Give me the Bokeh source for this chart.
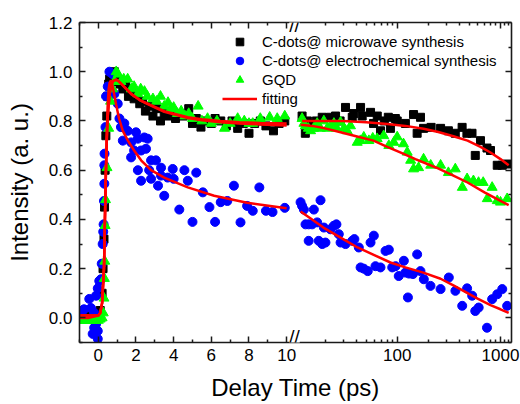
import math
from bokeh.plotting import figure
from bokeh.models import (Range1d, LogScale, LinearAxis, FixedTicker,
                          NumeralTickFormatter, Legend, LegendItem, Label)
from bokeh.embed import file_html
from bokeh.resources import INLINE

FONT = "Liberation Sans"

# ---------------- data ----------------
black_lin_x = [-1.0, -0.8, -0.6, -0.4, -0.2, 0.0, 0.1, 0.2, 0.25, 0.3,
               0.33, 0.36, 0.4, 0.45, 0.5, 0.55, 0.6, 0.68, 0.75, 0.85,
               0.95, 1.05, 1.15, 1.3, 1.45, 1.6, 1.75, 1.9, 2.05, 2.2,
               2.35, 2.5, 2.7, 2.9, 3.1, 3.3, 3.5, 3.7, 3.9, 4.1,
               4.3, 4.5, 4.8, 5.0, 5.2, 5.45, 5.7, 6.0, 6.2, 6.5,
               6.8, 7.1, 7.4, 7.7, 8.0, 8.3, 8.6, 8.9, 9.3, 9.6,
               9.9]
black_lin_y = [0.0, 0.0, 0.01, 0.0, 0.0, 0.01, 0.03, 0.1, 0.2, 0.32,
               0.45, 0.6, 0.74, 0.82, 0.9, 0.95, 0.97, 0.96, 0.99, 1.0,
               0.98, 0.96, 0.95, 0.93, 0.94, 0.9, 0.92, 0.89, 0.9, 0.87,
               0.88, 0.84, 0.86, 0.82, 0.85, 0.8, 0.83, 0.82, 0.84, 0.81,
               0.83, 0.82, 0.85, 0.79, 0.81, 0.775, 0.8, 0.79, 0.81, 0.8,
               0.78, 0.8, 0.77, 0.79, 0.75, 0.79, 0.8, 0.78, 0.76, 0.79,
               0.8]

green_lin_x = [-1.0, -0.9, -0.8, -0.7, -0.6, -0.5, -0.4, -0.3, -0.2, -0.1,
               0.0, 0.1, 0.2, 0.26, 0.3, 0.32, 0.34, 0.36, 0.38, 0.46,
               0.55, 0.65, 0.75, 0.85, 0.95, 1.05, 1.2, 1.35, 1.56, 1.75,
               1.9, 2.1, 2.25, 2.45, 2.6, 2.9, 3.1, 3.3, 3.5, 3.7,
               3.85, 4.0, 4.2, 4.4, 4.6, 4.8, 5.0, 5.3, 5.5, 5.8,
               6.0, 6.3, 6.7, 7.0, 7.4, 7.75, 8.0, 8.2, 8.6, 9.1,
               9.5, 9.9]
green_lin_y = [-0.01, -0.01, -0.01, -0.01, -0.01, -0.01, -0.01, -0.01, -0.01, -0.01,
               -0.01, -0.005, 0.0, 0.02, 0.08, 0.16, 0.23, 0.375, 0.48, 0.61,
               0.77, 0.88, 0.93, 0.96, 1.0, 0.99, 0.96, 0.97, 0.97, 0.93,
               0.94, 0.91, 0.93, 0.92, 0.9, 0.89, 0.88, 0.9, 0.86, 0.875,
               0.85, 0.855, 0.83, 0.84, 0.82, 0.83, 0.81, 0.86, 0.8, 0.81,
               0.79, 0.8, 0.77, 0.79, 0.81, 0.8, 0.79, 0.79, 0.81, 0.815,
               0.81, 0.82]

blue_lin_x = [-0.83, -0.76, -0.48, -0.39, -0.30, -0.22, -0.22, -0.12, -0.12, -0.03,
              -0.03, -0.03, 0.05, 0.14, 0.18, 0.23, 0.26, 0.28, 0.30, 0.32,
              0.32, 0.33, 0.38, 0.41, 0.50, 0.59, 0.76, 0.85, 1.03, 1.12,
              1.20, 1.30, 1.38, 1.56, 1.74, 1.74, 1.90, 2.00, 2.10, 2.10,
              2.27, 2.27, 2.44, 2.53, 2.62, 2.70, 2.80, 2.80, 3.06, 3.17,
              3.33, 3.33, 3.50, 3.68, 3.95, 4.00, 4.30, 4.57, 4.75, 5.00,
              5.20, 5.55, 5.90, 6.20, 6.50, 6.85, 7.20, 7.55, 7.90, 8.20,
              8.55, 8.90, 9.25, 9.90]
blue_lin_y = [0.03, 0.035, 0.077, 0.04, -0.065, 0.02, -0.04, -0.025, 0.09, 0.12,
              -0.053, -0.085, 0.15, 0.157, 0.22, 0.30, 0.35, 0.38, 0.475, 0.545,
              0.62, 0.667, 0.775, 0.90, 0.94, 1.00, 0.99, 0.91, 0.87, 0.81,
              0.775, 0.72, 0.79, 0.76, 0.713, 0.652, 0.68, 0.754, 0.728, 0.60,
              0.68, 0.557, 0.733, 0.687, 0.728, 0.60, 0.64, 0.565, 0.64, 0.537,
              0.61, 0.578, 0.496, 0.57, 0.605, 0.565, 0.44, 0.60, 0.557, 0.39,
              0.59, 0.51, 0.45, 0.39, 0.47, 0.475, 0.537, 0.388, 0.455, 0.435,
              0.53, 0.435, 0.43, 0.447]

black_log_x = [12.0, 12.9, 13.5, 14.5, 16.5, 18.8, 22.6, 25.3, 28.0, 31.6,
               36.7, 38.0, 44.2, 45.8, 55.2, 59.0, 64.1, 68.9, 75.0, 82.0,
               86.0, 96.0, 100.0, 120.0, 144.0, 156.0, 168.0, 180.0, 213.0, 263.0,
               313.0, 365.0, 425.0, 473.0, 530.0, 570.0, 640.0, 740.0, 800.0, 930.0,
               1040.0, 1160.0]
black_log_y = [0.82, 0.75, 0.80, 0.79, 0.80, 0.815, 0.815, 0.82, 0.80, 0.855,
               0.815, 0.83, 0.855, 0.82, 0.835, 0.79, 0.82, 0.76, 0.80, 0.815,
               0.77, 0.81, 0.80, 0.79, 0.826, 0.75, 0.815, 0.77, 0.774, 0.77,
               0.76, 0.75, 0.774, 0.75, 0.75, 0.66, 0.72, 0.69, 0.68, 0.62,
               0.62, 0.625]

green_log_x = [12.0, 12.5, 12.9, 13.8, 14.5, 15.5, 16.8, 18.0, 19.5, 21.0,
               22.5, 24.4, 26.0, 28.3, 30.5, 32.8, 35.3, 41.0, 44.0, 47.5,
               53.2, 58.0, 64.0, 74.0, 83.0, 92.7, 100.0, 115.0, 125.0, 135.0,
               144.0, 161.0, 180.0, 211.0, 263.0, 313.0, 365.0, 427.0, 475.0, 547.0,
               613.0, 680.0, 745.0, 830.0, 930.0, 1000.0, 1160.0]
green_log_y = [0.81, 0.79, 0.78, 0.77, 0.76, 0.77, 0.79, 0.77, 0.80, 0.77,
               0.775, 0.79, 0.77, 0.795, 0.77, 0.76, 0.78, 0.713, 0.72, 0.734,
               0.72, 0.73, 0.728, 0.74, 0.70, 0.713, 0.735, 0.707, 0.673, 0.64,
               0.605, 0.61, 0.645, 0.62, 0.62, 0.59, 0.605, 0.53, 0.565, 0.557,
               0.55, 0.55, 0.484, 0.53, 0.476, 0.47, 0.484]

blue_log_x = [11.6, 12.0, 12.5, 12.95, 13.9, 13.9, 15.0, 15.6, 16.8, 17.4,
              18.1, 18.8, 19.5, 20.2, 22.6, 24.3, 25.8, 27.2, 28.3, 31.6,
              36.7, 38.5, 42.5, 44.2, 47.5, 51.9, 55.2, 59.4, 61.6, 68.9,
              77.1, 83.0, 89.5, 96.4, 103.5, 116.0, 120.0, 130.0, 142.0, 127.0,
              156.0, 168.0, 181.0, 210.0, 263.0, 316.0, 366.0, 426.0, 475.0, 532.0,
              570.0, 615.0, 740.0, 830.0, 930.0, 1040.0, 1160.0]
blue_log_y = [0.47, 0.455, 0.44, 0.38, 0.38, 0.313, 0.38, 0.44, 0.388, 0.313,
              0.478, 0.30, 0.367, 0.306, 0.36, 0.374, 0.38, 0.34, 0.306, 0.30,
              0.313, 0.32, 0.286, 0.205, 0.20, 0.19, 0.306, 0.334, 0.21, 0.205,
              0.272, 0.277, 0.205, 0.21, 0.17, 0.232, 0.184, 0.18, 0.178, 0.083,
              0.258, 0.19, 0.157, 0.13, 0.117, 0.164, 0.11, 0.049, 0.12, 0.09,
              0.028, 0.042, -0.04, 0.076, 0.096, 0.117, 0.049]

fit_bg_lin_x = [-1.0, -0.5, 0.0, 0.1, 0.2, 0.3, 0.35, 0.4, 0.45, 0.5,
                0.6, 0.7, 0.8, 0.95, 1.1, 1.3, 1.74, 2.2, 2.62, 3.5,
                4.75, 5.5, 6.5, 7.5, 8.6, 10.0]
fit_black_lin_y = [0.01, 0.01, 0.01, 0.02, 0.06, 0.2, 0.4, 0.58, 0.72, 0.82,
                   0.91, 0.95, 0.963, 0.968, 0.96, 0.945, 0.91, 0.885, 0.87, 0.84,
                   0.815, 0.807, 0.8, 0.795, 0.792, 0.79]
fit_green_lin_y = [0.01, 0.01, 0.01, 0.02, 0.06, 0.2, 0.4, 0.58, 0.72, 0.82,
                   0.91, 0.95, 0.963, 0.968, 0.96, 0.945, 0.91, 0.885, 0.868, 0.837,
                   0.812, 0.803, 0.795, 0.79, 0.786, 0.782]
fit_blue_lin_x = [-1.0, -0.5, 0.0, 0.1, 0.2, 0.3, 0.35, 0.4, 0.45, 0.5,
                  0.55, 0.6, 0.67, 0.75, 0.84, 0.95, 1.1, 1.3, 1.57, 1.9,
                  2.27, 2.8, 3.5, 4.75, 6.15, 7.9, 10.0]
fit_blue_lin_y = [0.0, 0.0, 0.01, 0.02, 0.06, 0.2, 0.4, 0.6, 0.76, 0.87,
                  0.93, 0.955, 0.965, 0.945, 0.91, 0.865, 0.81, 0.76, 0.72, 0.68,
                  0.64, 0.6, 0.57, 0.53, 0.496, 0.468, 0.445]

fit_black_log_x = [12.0, 20.0, 30.0, 50.0, 80.0, 120.0, 180.0, 250.0, 350.0, 480.0,
                   640.0, 800.0, 1000.0, 1200.0]
fit_black_log_y = [0.80, 0.80, 0.80, 0.795, 0.788, 0.78, 0.768, 0.755, 0.738, 0.72,
                   0.695, 0.672, 0.645, 0.62]
fit_green_log_x = [11.6, 15.0, 20.0, 28.3, 40.0, 59.0, 80.0, 107.0, 150.0, 240.0,
                   350.0, 480.0, 700.0, 1000.0, 1200.0]
fit_green_log_y = [0.785, 0.78, 0.77, 0.754, 0.738, 0.72, 0.695, 0.672, 0.645, 0.61,
                   0.578, 0.55, 0.51, 0.475, 0.458]
fit_blue_log_x = [11.6, 15.0, 19.3, 30.0, 41.3, 60.0, 86.0, 120.0, 179.0, 263.0,
                  350.0, 438.0, 600.0, 800.0, 1000.0, 1200.0]
fit_blue_log_y = [0.432, 0.40, 0.367, 0.32, 0.286, 0.255, 0.225, 0.205, 0.184, 0.159,
                  0.132, 0.11, 0.078, 0.052, 0.035, 0.02]

x_lin_major = [0, 2, 4, 6, 8, 10]
x_lin_minor = [-1, 1, 3, 5, 7, 9]
x_log_major = [100, 1000]
x_log_minor = [20, 30, 40, 50, 60, 70, 80, 90, 200, 300, 400, 500, 600, 700, 800, 900, 1100, 1200]
y_major = [0.0, 0.2, 0.4, 0.6, 0.8, 1.0, 1.2]
y_minor = [-0.1, 0.1, 0.3, 0.5, 0.7, 0.9, 1.1]

legend_labels = ["C-dots@ microwave synthesis", "C-dots@ electrochemical synthesis", "GQD", "fitting"]

# ---------------- ranges (broken axis: linear section + log section) ----------------
X0, X1 = -1.0, 21.94
L0, L1 = 0.084, 1278.0
FRAME_H = 320


def log_pos(v):
    f = (math.log10(v) - math.log10(L0)) / (math.log10(L1) - math.log10(L0))
    return X0 + f * (X1 - X0)


x_ticks = [float(t) for t in x_lin_major] + [log_pos(v) for v in x_log_major]
x_minor = [float(t) for t in x_lin_minor] + [log_pos(v) for v in x_log_minor]
x_overrides = {log_pos(v): str(v) for v in x_log_major}

p = figure(width=520, height=404, output_backend="svg", toolbar_location=None,
           x_range=Range1d(X0, X1), y_range=Range1d(-0.1, 1.2),
           x_axis_type=None, y_axis_type=None,
           min_border_left=79, min_border_right=9, min_border_top=22, min_border_bottom=62,
           extra_x_ranges={"log": Range1d(L0, L1)},
           extra_x_scales={"log": LogScale()})
p.outline_line_color = None
p.background_fill_color = "white"
p.border_fill_color = "white"

AXC = "#1a1a1a"


def style(ax, labels=True, size="17px"):
    ax.major_tick_in = 6
    ax.major_tick_out = 0
    ax.minor_tick_in = 3
    ax.minor_tick_out = 0
    ax.axis_line_width = 1.6
    ax.axis_line_color = AXC
    ax.major_tick_line_width = 1.5
    ax.minor_tick_line_width = 1.5
    ax.major_tick_line_color = AXC
    ax.minor_tick_line_color = AXC
    ax.major_label_text_font = FONT
    ax.major_label_text_color = "black"
    ax.axis_label_text_font = FONT
    ax.axis_label_text_font_style = "normal"
    ax.axis_label_text_color = "black"
    if labels:
        ax.major_label_text_font_size = size
    else:
        ax.major_label_text_font_size = "1px"
        ax.major_label_text_alpha = 0
        ax.major_label_standoff = 0


ax_b = LinearAxis(ticker=FixedTicker(ticks=x_ticks, minor_ticks=x_minor),
                  axis_label="Delay Time (ps)")
ax_b.major_label_overrides = x_overrides
style(ax_b)
ax_b.major_label_standoff = 6
ax_b.axis_label_text_font_size = "24px"
ax_b.axis_label_standoff = 10
p.add_layout(ax_b, "below")

ax_t = LinearAxis(ticker=FixedTicker(ticks=x_ticks, minor_ticks=x_minor))
style(ax_t, labels=False)
p.add_layout(ax_t, "above")

ax_l = LinearAxis(ticker=FixedTicker(ticks=y_major, minor_ticks=y_minor),
                  formatter=NumeralTickFormatter(format="0.0"),
                  axis_label="Intensity (a. u.)")
style(ax_l)
ax_l.major_label_standoff = 7
ax_l.axis_label_text_font_size = "24px"
ax_l.axis_label_standoff = 13
p.add_layout(ax_l, "left")
ax_r = LinearAxis(ticker=FixedTicker(ticks=y_major, minor_ticks=y_minor),
                  formatter=NumeralTickFormatter(format="0.0"))
style(ax_r, labels=False)
p.add_layout(ax_r, "right")

BLACK, BLUE, GREEN, RED = "#000000", "#0000FF", "#00FF00", "#FF0000"

r_black = p.scatter(black_lin_x, black_lin_y, marker="square", size=8, color=BLACK)
p.scatter(black_log_x, black_log_y, marker="square", size=8, color=BLACK, x_range_name="log")
r_blue = p.scatter(blue_lin_x, blue_lin_y, marker="circle", size=9, color=BLUE)
p.scatter(blue_log_x, blue_log_y, marker="circle", size=9, color=BLUE, x_range_name="log")
r_green = p.scatter(green_lin_x, green_lin_y, marker="triangle", size=10, color=GREEN)
p.scatter(green_log_x, green_log_y, marker="triangle", size=10, color=GREEN, x_range_name="log")

r_fit = p.line(fit_bg_lin_x, fit_black_lin_y, line_color=RED, line_width=2.5)
p.line(fit_bg_lin_x, fit_green_lin_y, line_color=RED, line_width=2.5)
p.line(fit_blue_lin_x, fit_blue_lin_y, line_color=RED, line_width=2.5)
p.line(fit_black_log_x, fit_black_log_y, line_color=RED, line_width=2.5, x_range_name="log")
p.line(fit_green_log_x, fit_green_log_y, line_color=RED, line_width=2.5, x_range_name="log")
p.line(fit_blue_log_x, fit_blue_log_y, line_color=RED, line_width=2.5, x_range_name="log")

# axis break marks near the bottom and top frame edges (screen units from the frame's lower-left)
for sy in (6, FRAME_H - 3):
    p.add_layout(Label(x=215, y=sy, x_units="screen", y_units="screen", text="//",
                       text_align="center", text_baseline="middle", text_font=FONT,
                       text_font_size="19px", text_color="black",
                       background_fill_color="white"))

legend = Legend(items=[LegendItem(label=legend_labels[0], renderers=[r_black]),
                       LegendItem(label=legend_labels[1], renderers=[r_blue]),
                       LegendItem(label=legend_labels[2], renderers=[r_green]),
                       LegendItem(label=legend_labels[3], renderers=[r_fit])],
                location=(143, 234), orientation="vertical",
                glyph_width=35, glyph_height=19, label_height=19, label_standoff=5,
                spacing=0, padding=0, margin=0,
                label_text_font=FONT, label_text_font_size="15px", label_text_color="black",
                border_line_color=None, background_fill_alpha=0)
p.add_layout(legend)

open("out.html", "w").write(file_html(p, INLINE))
